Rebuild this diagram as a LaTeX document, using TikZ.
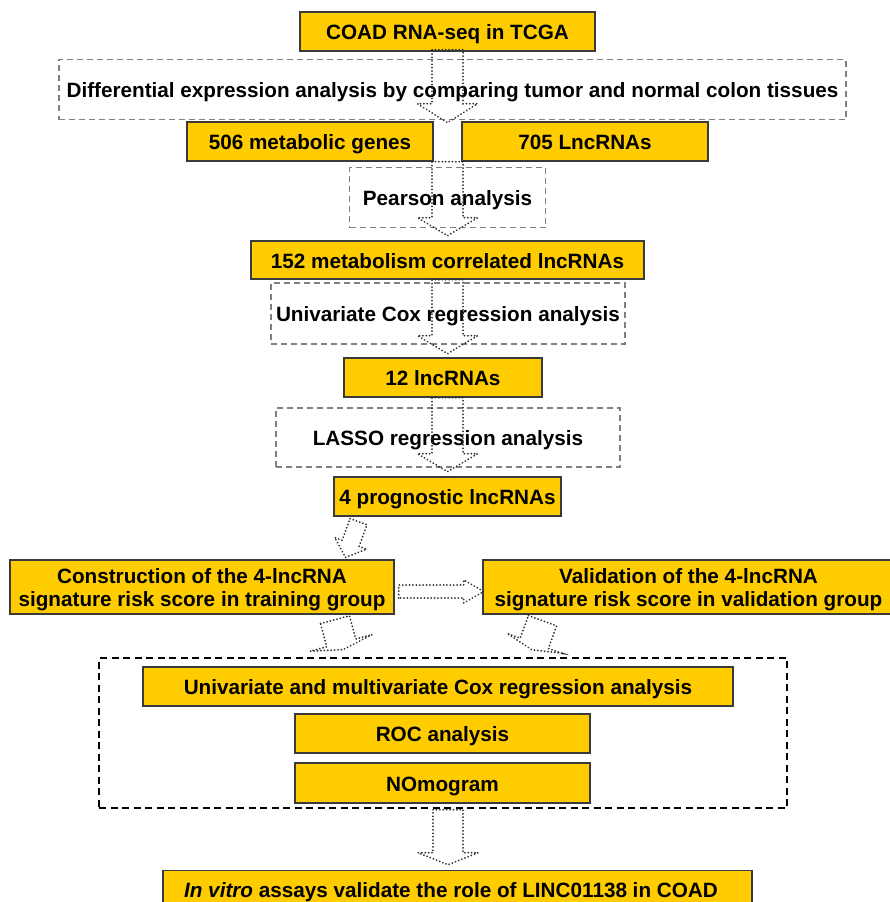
\documentclass[tikz,border=0pt]{standalone}
\usepackage{fontspec}
\setmainfont{Liberation Sans}
\usetikzlibrary{calc}
\definecolor{boxfill}{HTML}{FFCC00}
\definecolor{boxline}{HTML}{3A3A3A}
\definecolor{dashgray}{HTML}{808080}
\definecolor{arrgray}{HTML}{2E2E2E}
\newcommand\blockarr[6]{%
  \begin{scope}[shift={#1}, rotate=#2]
    \draw[arrline] (-#4,0) -- (#4,0) -- (#4,#3-#6) -- (#5,#3-#6) -- (0,#3)
      -- (-#5,#3-#6) -- (-#4,#3-#6) -- cycle;
  \end{scope}}
\begin{document}
\begin{tikzpicture}[x=1pt,y=-1pt,
  every node/.style={font=\fontsize{20.7}{23.5}\selectfont\bfseries, inner sep=0pt, align=center},
  oneline/.style={text height=16.6pt, text depth=0pt},
  ybox/.style={draw=boxline, fill=boxfill, line width=1.4pt},
  gbox/.style={draw=dashgray, line width=1.4pt, dash pattern=on 6pt off 4pt},
  kbox/.style={draw=black, line width=1.4pt, dash pattern=on 7pt off 4.5pt},
  arrline/.style={draw=arrgray, line width=1.9pt, line cap=round, dash pattern=on 0.1pt off 3.3pt}]
\useasboundingbox (0,0) rectangle (890,902);
\clip (0,0) rectangle (890,902);

% boxes
\node[ybox, oneline, minimum width=295pt, minimum height=39pt] (coad) at (447.5,31.5) {COAD RNA-seq in TCGA};
\node[gbox, oneline, minimum width=787pt, minimum height=60pt] (diff) at (452.5,89.5) {Differential expression analysis by comparing tumor and normal colon tissues};
\node[ybox, oneline, minimum width=246pt, minimum height=39pt] (gen) at (310,141.5) {506 metabolic genes};
\node[ybox, oneline, minimum width=246pt, minimum height=39pt] (lnc) at (585,141.5) {705 LncRNAs};
\node[gbox, oneline, minimum width=196pt, minimum height=60pt] (pear) at (447.5,197.5) {Pearson analysis};
\node[ybox, oneline, minimum width=393pt, minimum height=38pt] (m152) at (447.5,260) {152 metabolism correlated lncRNAs};
\node[gbox, oneline, minimum width=354pt, minimum height=61pt] (ucox) at (448,313.5) {Univariate Cox regression analysis};
\node[ybox, oneline, minimum width=198pt, minimum height=39pt] (l12) at (443,377.5) {12 lncRNAs};
\node[gbox, oneline, minimum width=344pt, minimum height=59pt] (lasso) at (448,437.5) {LASSO regression analysis};
\node[ybox, oneline, minimum width=227pt, minimum height=39pt] (p4) at (447.5,496.5) {4 prognostic lncRNAs};
\node[ybox, minimum width=384pt, minimum height=54pt] (cons) at (202,587) {};
\node (constext) at (202,589.5) {Construction of the 4-lncRNA\\signature risk score in training group};
\node[ybox, minimum width=411pt, minimum height=54pt] (val) at (688.5,587) {};
\node (valtext) at (688.5,589.5) {Validation of the 4-lncRNA\\signature risk score in validation group};
\node[kbox, minimum width=688pt, minimum height=150pt] (grp) at (443,733) {};
\node[ybox, oneline, minimum width=590pt, minimum height=39pt] (uni) at (438,686.5) {Univariate and multivariate Cox regression analysis};
\node[ybox, oneline, minimum width=295pt, minimum height=39pt] (roc) at (442.5,733.5) {ROC analysis};
\node[ybox, oneline, minimum width=295pt, minimum height=40pt] (nom) at (442.5,783) {NOmogram};
\node[ybox, minimum width=589pt, minimum height=40pt, anchor=north] (vit) at (457.5,870) {};
\node[oneline] (vittext) at (451,889.5) {\textit{In vitro} assays validate the role of LINC01138 in COAD};

% connector start points
\coordinate (a1) at ($(coad.south)+(0,-2)$);
\coordinate (a2) at ($(gen.south east)!0.5!(lnc.south west)$);
\coordinate (a3) at (m152.south);
\coordinate (a4) at (l12.south -| coad.south);
\coordinate (a5) at ($(p4.south)+(-89,5)$);
\coordinate (a6) at ($(cons.east)+(4,4.5)$);
\coordinate (a7) at ($(cons.south)+(133,5)$);
\coordinate (a8) at ($(val.south)+(-146,6)$);
\coordinate (a9) at ($(grp.south)+(5,1)$);

% block arrows: start, rotation, length, shaft half, head half, head length
\blockarr{(a1)}{0}{73}{15.5}{30}{19}
\blockarr{(a2)}{0}{74}{15.5}{30}{18}
\blockarr{(a3)}{0}{74}{15.5}{30}{18}
\blockarr{(a4)}{0}{74}{15.5}{30}{18}
\blockarr{(a5)}{-20}{38}{9}{17}{15}
\blockarr{(a6)}{90}{85}{6.5}{11.5}{20}
\blockarr{(a7)}{15}{31}{15}{32}{7}
\blockarr{(a8)}{-20}{31}{15}{29}{7}
\blockarr{(a9)}{0}{55}{15}{30}{12}
\end{tikzpicture}
\end{document}
